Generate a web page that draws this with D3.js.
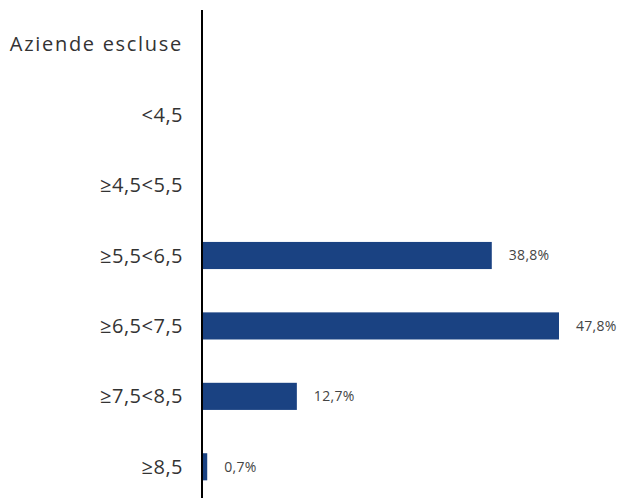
<!DOCTYPE html>
<html><head><meta charset="utf-8">
<script src="https://cdn.jsdelivr.net/npm/d3@7"></script>
<style>body{margin:0;background:#fff}</style>
</head><body>
<svg id="c" width="622" height="498"></svg>
<script>
const categories = ["Aziende escluse","<4,5","≥4,5<5,5","≥5,5<6,5","≥6,5<7,5","≥7,5<8,5","≥8,5"];
const values = [null,null,null,38.8,47.8,12.7,0.7];
const valueLabels = ["","","","38,8%","47,8%","12,7%","0,7%"];

const svg = d3.select("#c");
const x0 = 202;
const x = d3.scaleLinear().domain([0,47.8]).range([x0,559]);
const y = d3.scaleBand().domain(categories).range([9,502]).paddingInner(0.615).paddingOuter(0.3075);
const font = "Open Sans, sans-serif";
const rows = categories.map((c,i)=>({c,v:values[i],l:valueLabels[i]})).filter(d=>d.v!=null);

svg.selectAll("rect.bar").data(rows)
  .join("rect").attr("class","bar")
  .attr("x",x(0)).attr("y",d=>y(d.c)).attr("width",d=>x(d.v)-x(0)).attr("height",y.bandwidth())
  .attr("fill","#1a4282");

svg.selectAll("text.val").data(rows)
  .join("text").attr("class","val")
  .attr("x",d=>x(d.v)+17).attr("y",d=>y(d.c)+y.bandwidth()/2).attr("dy","0.35em")
  .attr("font-family",font).attr("font-size",14).attr("letter-spacing",0.3).attr("fill","#444").text(d=>d.l);

svg.selectAll("text.cat").data(categories).join("text").attr("class","cat")
  .attr("x",183).attr("y",d=>y(d)+y.bandwidth()/2).attr("dy","0.35em").attr("text-anchor","end")
  .attr("font-family",font).attr("font-size",20).attr("fill","#333")
  .attr("letter-spacing",d=>/[a-z]/i.test(d)?1.7:0.5)
  .text(d=>d);

svg.append("line").attr("x1",x0).attr("x2",x0).attr("y1",10).attr("y2",498)
  .attr("stroke","#000").attr("stroke-width",2);
</script>
</body></html>
